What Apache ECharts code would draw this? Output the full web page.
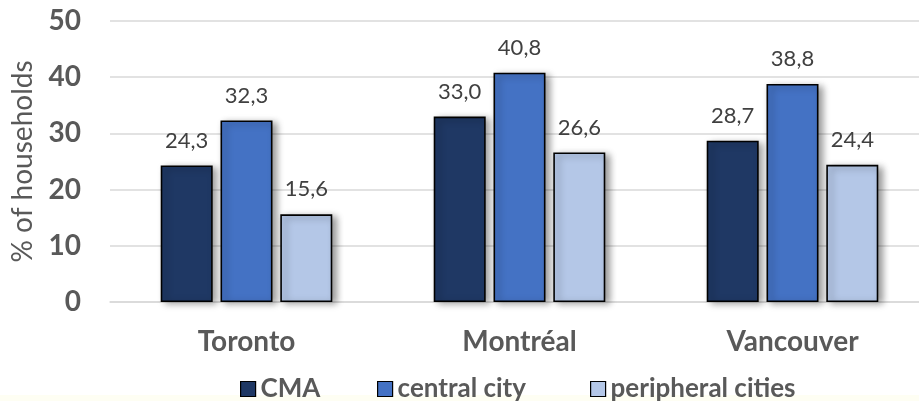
<!DOCTYPE html>
<html>
<head>
<meta charset="utf-8">
<title>Households by metropolitan area</title>
<script src="https://cdn.jsdelivr.net/npm/echarts@6/dist/echarts.min.js"></script>
<style>
  html, body { margin: 0; padding: 0; background: #ffffff; }
  #chart { width: 919px; height: 401px; }
</style>
</head>
<body>
<div id="chart"></div>
<script>
// Metropolitan areas shown on the category axis
const cities = ['Toronto', 'Montréal', 'Vancouver'];

// Share of households (%) for each geography
const cmaValues = [24.3, 33.0, 28.7];
const centralCityValues = [32.3, 40.8, 38.8];
const peripheralCitiesValues = [15.6, 26.6, 24.4];

// Series names used in the legend
const seriesNames = ['CMA', 'central city', 'peripheral cities'];
const seriesColors = ['#1F3864', '#4472C4', '#B4C7E7'];

// Value axis ticks
const yTicks = [0, 10, 20, 30, 40, 50];

// Left edge of each legend entry
const legendLefts = [240, 377, 590];

const FONT = 'Lato, "Open Sans", "DejaVu Sans", sans-serif';

function commaDecimal(v) {
  return v.toFixed(1).replace('.', ',');
}

function makeSeries(name, values, color) {
  return {
    name: name,
    type: 'bar',
    data: values,
    barWidth: 52,
    barGap: '15%',
    itemStyle: {
      color: color,
      borderColor: '#000000',
      borderWidth: 1.6,
      shadowColor: 'rgba(0,0,0,0.4)',
      shadowBlur: 7,
      shadowOffsetX: 4,
      shadowOffsetY: 2
    },
    label: {
      show: true,
      position: 'top',
      distance: 14,
      color: '#404040',
      fontFamily: FONT,
      fontSize: 22,
      formatter: p => commaDecimal(p.value)
    }
  };
}

// One legend block per series so each entry sits at its own spot
const legends = seriesNames.map((name, i) => ({
  data: [name],
  left: legendLefts[i],
  top: 376,
  padding: 0,
  itemWidth: 15,
  itemHeight: 15,
  icon: 'rect',
  itemStyle: { borderColor: '#000000', borderWidth: 1.2, shadowBlur: 0, shadowOffsetX: 0, shadowOffsetY: 0 },
  textStyle: { color: '#595959', fontFamily: FONT, fontSize: 26, fontWeight: 'bold' }
}));

const chart = echarts.init(document.getElementById('chart'), null, { renderer: 'canvas' });

chart.setOption({
  animation: false,
  backgroundColor: '#ffffff',
  textStyle: { fontFamily: FONT },
  // plot area runs slightly past the right edge of the canvas
  grid: { left: 110, top: 21, width: 819, height: 281, containLabel: false, outerBoundsMode: 'none' },
  legend: legends,
  graphic: [{
    type: 'rect',
    left: 0,
    top: 395,
    z: -1,
    shape: { width: 919, height: 6 },
    style: { fill: '#fefef3' }
  }],
  xAxis: {
    type: 'category',
    data: cities,
    axisLine: { show: true, lineStyle: { color: '#d9d9d9', width: 1.5 } },
    axisTick: { show: false },
    axisLabel: { color: '#595959', fontFamily: FONT, fontSize: 28, fontWeight: 'bold', margin: 26 }
  },
  yAxis: {
    type: 'value',
    min: yTicks[0],
    max: yTicks[yTicks.length - 1],
    interval: yTicks[1] - yTicks[0],
    name: '% of households',
    nameLocation: 'middle',
    nameGap: 73,
    nameTextStyle: { color: '#595959', fontFamily: FONT, fontSize: 28 },
    axisLine: { show: false },
    axisTick: { show: false },
    axisLabel: { color: '#595959', fontFamily: FONT, fontSize: 28, fontWeight: 'bold', margin: 29 },
    splitLine: { lineStyle: { color: '#d9d9d9', width: 1.5 } }
  },
  series: [
    makeSeries(seriesNames[0], cmaValues, seriesColors[0]),
    makeSeries(seriesNames[1], centralCityValues, seriesColors[1]),
    makeSeries(seriesNames[2], peripheralCitiesValues, seriesColors[2])
  ]
});
</script>
</body>
</html>
